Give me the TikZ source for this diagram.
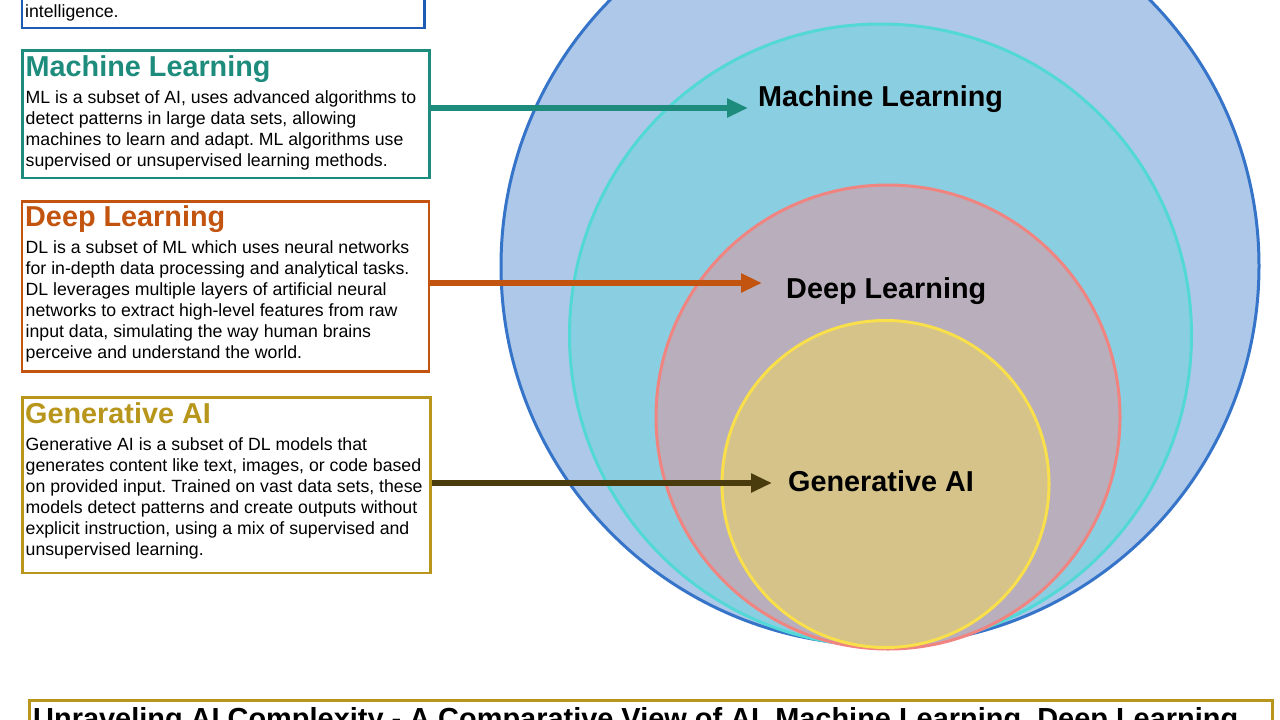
\documentclass[tikz,border=0pt]{standalone}
\usepackage{fontspec}
\setmainfont{Liberation Sans}
\usetikzlibrary{arrows.meta}
\definecolor{aiblue}{HTML}{1E5BB4}
\definecolor{mlteal}{HTML}{1E8C7C}
\definecolor{dlorange}{HTML}{C2540F}
\definecolor{gagold}{HTML}{B8961C}
\definecolor{gadark}{HTML}{4A3C0C}
\definecolor{c1fill}{HTML}{ADC8E8}
\definecolor{c1line}{HTML}{3574C8}
\definecolor{c2fill}{HTML}{8ACFE1}
\definecolor{c2line}{HTML}{52D8D6}
\definecolor{c3fill}{HTML}{B9AEBC}
\definecolor{c3line}{HTML}{F08480}
\definecolor{c4fill}{HTML}{D5C38A}
\definecolor{c4line}{HTML}{F9E04A}
\tikzset{
  ring/.style={circle, inner sep=0pt, line width=3pt},
  infobox/.style={draw, line width=2.6pt, inner sep=0pt, anchor=north west},
  boxtitle/.style={anchor=base west, inner sep=0pt, font=\fontsize{28.8}{32}\selectfont\bfseries},
  bodytext/.style={anchor=base west, inner sep=0pt, font=\fontsize{17.7}{21.1}\selectfont, text=black},
  ringlabel/.style={anchor=base west, inner sep=0pt, font=\fontsize{28.8}{32}\selectfont\bfseries, text=black},
  pointer/.style={line width=5.5pt, -{Triangle[length=21pt,width=18pt]}},
}
\frenchspacing
\newcommand{\bodypar}[1]{\parbox[t]{430pt}{\raggedright\frenchspacing #1}}
\begin{document}
\begin{tikzpicture}[x=1pt,y=-1pt]
\clip (0,0) rectangle (1280,720);
\fill[white] (0,0) rectangle (1280,720);

% nested circles
\node[ring, draw=c1line, fill=c1fill, minimum size=758pt] (aic) at (880,266) {};
\node[ring, draw=c2line, fill=c2fill, minimum size=622pt] (mlc) at (880.5,335) {};
\node[ring, draw=c3line, fill=c3fill, minimum size=464pt] (dlc) at (888,417) {};
\node[ring, draw=c4line, fill=c4fill, minimum size=327pt] (gac) at (885.5,484) {};

% AI box (mostly above the frame)
\node[infobox, draw=aiblue, minimum width=402.6pt, minimum height=90pt] (aibox) at (20.7,-63.3) {};
\node[bodytext] (aitext) at (25,17.3) {intelligence.};

% Machine Learning box
\node[infobox, draw=mlteal, minimum width=407pt, minimum height=127.4pt] (mlbox) at (21,49.3) {};
\node[boxtitle, text=mlteal] (mltitle) at (25.5,76.5) {Machine Learning};
\node[bodytext] (mlbody) at (25.5,103.3) {\bodypar{ML is a subset of AI, uses advanced algorithms to\\
detect patterns in large data sets, allowing\\
machines to learn and adapt. ML algorithms use\\
supervised or unsupervised learning methods.}};

% Deep Learning box
\node[infobox, draw=dlorange, minimum width=407pt, minimum height=170pt] (dlbox) at (20.7,200) {};
\node[boxtitle, text=dlorange] (dltitle) at (25,226) {Deep Learning};
\node[bodytext] (dlbody) at (25.5,253.3) {\bodypar{DL is a subset of ML which uses neural networks\\
for in-depth data processing and analytical tasks.\\
DL leverages multiple layers of artificial neural\\
networks to extract high-level features from raw\\
input data, simulating the way human brains\\
perceive and understand the world.}};

% Generative AI box
\node[infobox, draw=gagold, minimum width=408pt, minimum height=175.7pt] (gabox) at (21,396) {};
\node[boxtitle, text=gagold] (gatitle) at (25,423.3) {Generative AI};
\node[bodytext] (gabody) at (25.5,450) {\bodypar{Generative AI is a subset of DL models that\\
generates content like text, images, or code based\\
on provided input. Trained on vast data sets, these\\
models detect patterns and create outputs without\\
explicit instruction, using a mix of supervised and\\
unsupervised learning.}};

% ring labels
\node[ringlabel] (mllabel) at (758,106) {Machine Learning};
\node[ringlabel] (dllabel) at (786,298) {Deep Learning};
\node[ringlabel] (galabel) at (788,491) {Generative AI};

% arrows
\coordinate (mlend) at (748,108);
\coordinate (dlend) at (762,283);
\coordinate (gaend) at (772,483);
\draw[pointer, draw=mlteal, fill=mlteal] (mlbox.east |- mlend) -- (mlend);
\draw[pointer, draw=dlorange, fill=dlorange] (dlbox.east |- dlend) -- (dlend);
\draw[pointer, draw=gadark, fill=gadark] (gabox.east |- gaend) -- (gaend);

% bottom title box
\node[infobox, draw=gagold, minimum width=1243pt, minimum height=80pt] (titlebox) at (28,699.3) {};
\node[anchor=base west, inner sep=0pt] (titletext) at (33,728) {\resizebox{1205pt}{\height}{\fontsize{29}{32}\selectfont\bfseries Unraveling AI Complexity - A Comparative View of AI, Machine Learning, Deep Learning}};
\end{tikzpicture}
\end{document}
